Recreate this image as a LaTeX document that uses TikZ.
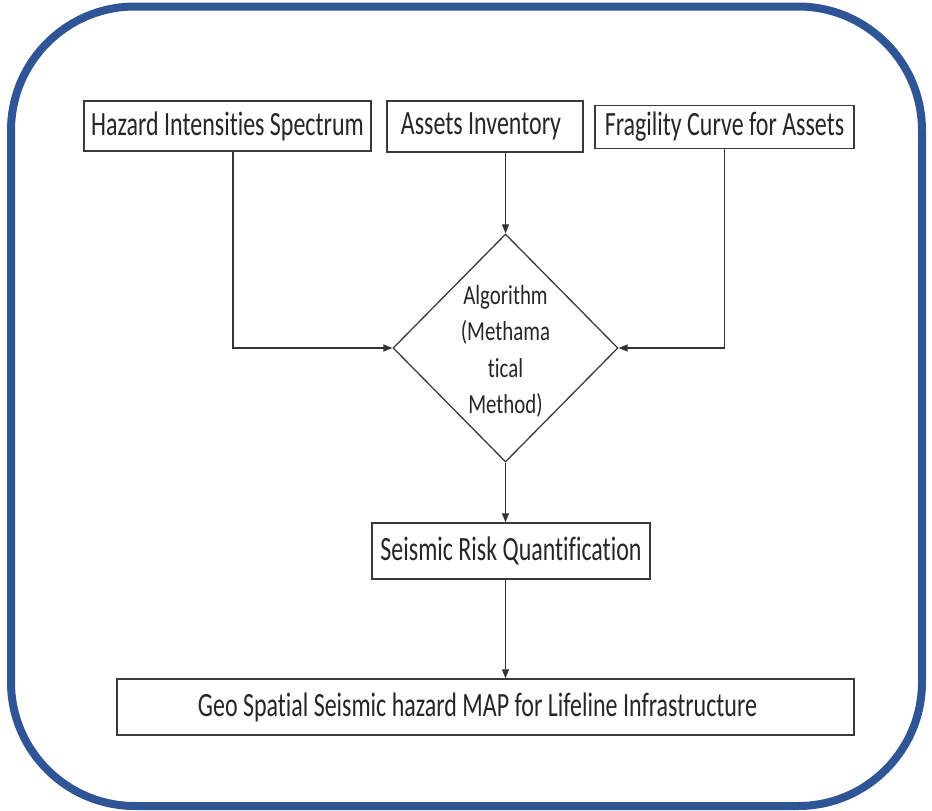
\documentclass[tikz,border=0pt]{standalone}
\usepackage{fontspec}
\setmainfont{Carlito}
\newfontfamily\boxfont[FakeStretch=0.705,Ligatures=NoCommon]{Carlito}
\newfontfamily\algfont[FakeStretch=0.76,Ligatures=NoCommon]{Carlito}
\usetikzlibrary{shapes.geometric,arrows.meta,calc}

\definecolor{frameblue}{HTML}{2F5597}
\definecolor{boxline}{HTML}{3A3A3A}
\definecolor{linkline}{HTML}{333333}

\tikzset{
  flowbox/.style={draw=boxline, line width=1.5pt, fill=white, inner sep=0pt,
    font=\boxfont\fontsize{34}{38}\selectfont, text=black!85},
  decision/.style={diamond, draw=boxline, line width=1.3pt, inner sep=0pt,
    minimum width=225pt, minimum height=228pt},
  decisiontext/.style={align=center, inner sep=0pt,
    font=\algfont\fontsize{27.5}{36.5}\selectfont, text=black!85},
  link/.style={draw=linkline, line width=1.2pt,
    -{Triangle[length=9pt,width=7pt]}},
  frame/.style={draw=frameblue, line width=8pt, rounded corners=124pt}
}

\begin{document}
\begin{tikzpicture}[x=1pt,y=-1pt]
  \useasboundingbox (0,0) rectangle (932,811);

  % outer rounded frame
  \draw[frame] (11,6.5) rectangle (922,806);

  % input boxes
  \node[flowbox, minimum width=287pt, minimum height=50pt] (haz) at (227.5,126) {Hazard Intensities Spectrum};
  \node[flowbox, minimum width=196pt, minimum height=51pt] (inv) at (485,126.5) {\hspace*{-8pt}Assets Inventory};
  \node[flowbox, minimum width=259pt, minimum height=43pt] (frag) at (724.5,127) {Fragility Curve for Assets};

  % decision diamond
  \node[decision] (alg) at (505.5,348) {};
  \node[decisiontext] (algtext) at ([yshift=-3.5pt]alg.center) {Algorithm\\(Methama\\tical\\Method)};

  % results
  \node[flowbox, minimum width=278pt, minimum height=56pt] (srq) at (511,551) {Seismic Risk Quantification};
  \node[flowbox, minimum width=737pt, minimum height=56pt] (geo) at (485.5,707) {\hspace*{-16pt}Geo Spatial Seismic hazard MAP for Lifeline Infrastructure};

  % connectors
  \draw[link] ([xshift=5.5pt]haz.south) |- (alg.west);
  \draw[link] (alg.north |- inv.south) -- (alg.north);
  \draw[link] (frag.south) |- (alg.east);
  \draw[link] (alg.south) -- (alg.south |- srq.north);
  \coordinate (srqout) at (alg.south |- srq.south);
  \draw[link] (srqout) -- (srqout |- geo.north);
\end{tikzpicture}
\end{document}
